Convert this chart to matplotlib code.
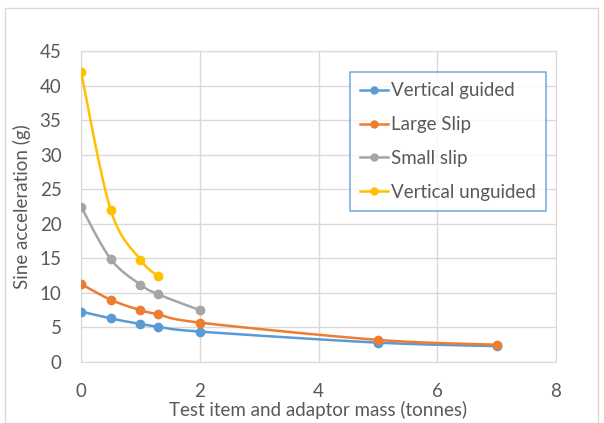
import numpy as np
import matplotlib
matplotlib.use("Agg")
import matplotlib.pyplot as plt
from matplotlib.patches import Rectangle

x_guided = [0, 0.5, 1, 1.3, 2, 5, 7]
y_guided = [7.3, 6.3, 5.5, 5.1, 4.4, 2.8, 2.3]
x_large = [0, 0.5, 1, 1.3, 2, 5, 7]
y_large = [11.3, 9.0, 7.5, 6.9, 5.7, 3.2, 2.5]
x_small = [0, 0.5, 1, 1.3, 2]
y_small = [22.5, 14.9, 11.2, 9.8, 7.5]
x_ung = [0, 0.5, 1, 1.3]
y_ung = [42, 22, 14.8, 12.4]

labels = ["Vertical guided", "Large Slip", "Small slip", "Vertical unguided"]
colors = ["#5B9BD5", "#ED7D31", "#A5A5A5", "#FFC000"]


def smooth(xs, ys, n=30, t=0.5):
    xs = np.asarray(xs, float); ys = np.asarray(ys, float)
    px, py = [], []
    m = len(xs)
    for i in range(m - 1):
        p0 = (xs[i - 1], ys[i - 1]) if i > 0 else (xs[i], ys[i])
        p1 = (xs[i], ys[i]); p2 = (xs[i + 1], ys[i + 1])
        p3 = (xs[i + 2], ys[i + 2]) if i + 2 < m else p2
        c1 = (p1[0] + (p2[0] - p0[0]) * t / 3, p1[1] + (p2[1] - p0[1]) * t / 3)
        c2 = (p2[0] - (p3[0] - p1[0]) * t / 3, p2[1] - (p3[1] - p1[1]) * t / 3)
        s = np.linspace(0, 1, n)
        bx = (1-s)**3*p1[0] + 3*(1-s)**2*s*c1[0] + 3*(1-s)*s**2*c2[0] + s**3*p2[0]
        by = (1-s)**3*p1[1] + 3*(1-s)**2*s*c1[1] + 3*(1-s)*s**2*c2[1] + s**3*p2[1]
        px.extend(bx); py.extend(by)
    return px, py


plt.rcParams['font.family'] = ['Lato', 'DejaVu Sans']
fig = plt.figure(figsize=(6.04, 4.23), dpi=100)
fig.patches.append(Rectangle((5/604, 0), 593/604, 1 - 8/423, transform=fig.transFigure,
                             fill=False, edgecolor='#D9D9D9', linewidth=1))
ax = fig.add_axes([81/604, 1 - 362/423, 475/604, 311/423])

series = [(x_guided, y_guided), (x_large, y_large), (x_small, y_small), (x_ung, y_ung)]
for (xs, ys), lab, c in zip(series, labels, colors):
    sx, sy = smooth(xs, ys)
    ax.plot(sx, sy, color=c, lw=1.8, zorder=3)
    ax.plot(xs, ys, 'o', color=c, ms=6, zorder=4)
    ax.plot([], [], '-o', color=c, lw=1.8, ms=5, label=lab)

ax.set_xlim(0, 8)
ax.set_ylim(0, 45)
ax.set_xticks(range(0, 9, 2))
ax.set_yticks(range(0, 46, 5))
ax.grid(True, color='#D9D9D9', lw=1)
ax.set_axisbelow(True)
for s in ax.spines.values():
    s.set_color('#D9D9D9')
ax.tick_params(length=0, labelsize=13.5, colors='#595959')
ax.tick_params(axis='x', pad=15)
ax.tick_params(axis='y', pad=14)
ax.set_xlabel("Test item and adaptor mass (tonnes)", fontsize=13.5, color='#595959', labelpad=1)
ax.set_ylabel("Sine acceleration (g)", fontsize=13.5, color='#595959', labelpad=6)

leg = ax.legend(loc='upper right', bbox_to_anchor=(546/604, 1 - 72/423), bbox_transform=fig.transFigure,
                fontsize=13.5, frameon=True, fancybox=False, handlelength=1.5, handletextpad=0.15,
                labelspacing=0.9, borderpad=0.55, borderaxespad=0)
leg.get_frame().set_edgecolor('#5B9BD5')
leg.get_frame().set_linewidth(1.2)
for t in leg.get_texts():
    t.set_color('#595959')

fig.savefig("out.png", dpi=100)
